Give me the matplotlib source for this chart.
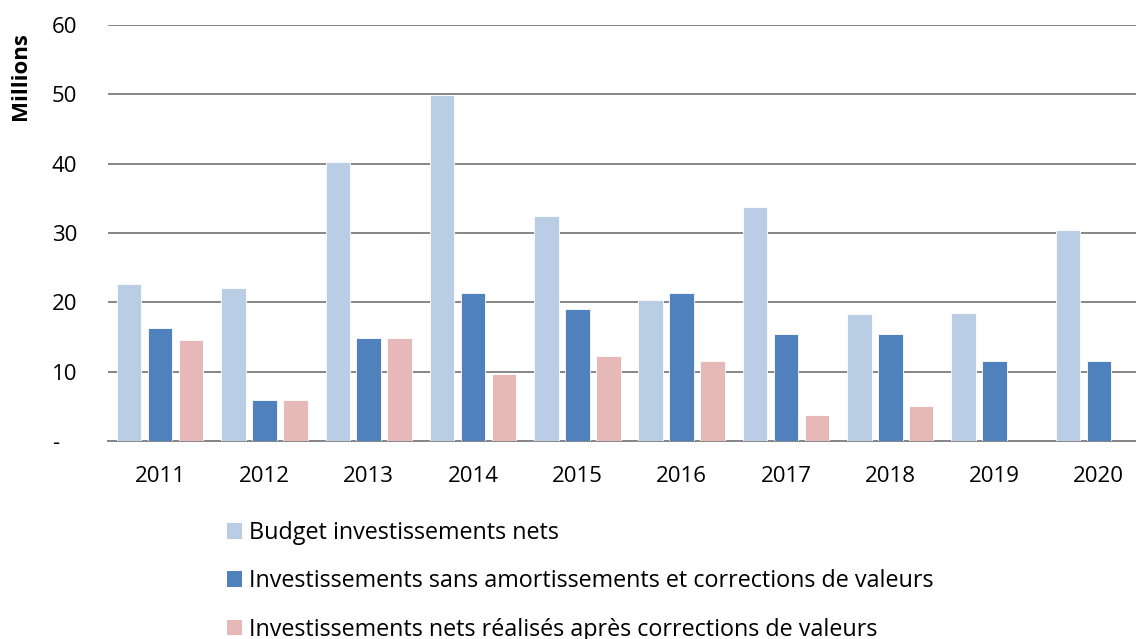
import numpy as np
import matplotlib
matplotlib.use("Agg")
import matplotlib.pyplot as plt
from matplotlib.patches import Patch

plt.rcParams['font.family'] = ['Open Sans', 'DejaVu Sans']

# valeurs (millions)
years = ['2011', '2012', '2013', '2014', '2015', '2016', '2017', '2018', '2019', '2020']
budget = [22.6, 22.0, 40.2, 49.9, 32.5, 20.3, 33.8, 18.3, 18.5, 30.5]
sans_amort = [16.3, 5.9, 14.8, 21.3, 19.0, 21.3, 15.4, 15.4, 11.6, 11.6]
realises = [14.5, 5.9, 14.8, 9.6, 12.3, 11.6, 3.8, 5.0, np.nan, np.nan]

series_names = ['Budget investissements nets',
                'Investissements sans amortissements et corrections de valeurs',
                'Investissements nets réalisés après corrections de valeurs']
colors = ['#B9CDE5', '#4F81BD', '#E6B9B8']
yticks = [0, 10, 20, 30, 40, 50, 60]
ytick_labels = ['-   ', '10', '20', '30', '40', '50', '60']

fig = plt.figure(figsize=(11.36, 6.39), dpi=100)
# la zone du graphique depasse a droite (image rognee)
ax = fig.add_axes([108 / 1136, 1 - 441 / 639, 1043 / 1136, 416 / 639])

x = np.arange(len(years))
w = 0.235
step = 0.297
for i, (vals, c) in enumerate(zip([budget, sans_amort, realises], colors)):
    ax.bar(x + (i - 1) * step, vals, width=w, color=c, edgecolor='white',
           linewidth=0.6, zorder=3)

ax.set_xlim(-0.5, len(years) - 0.5)
ax.set_ylim(0, 60)
ax.set_yticks(yticks)
ax.set_yticklabels(ytick_labels)
ax.set_xticks(x)
ax.set_xticklabels(years)
ax.grid(axis='y', color='#868686', linewidth=1.4, zorder=0)
for s in ['top', 'right', 'left']:
    ax.spines[s].set_visible(False)
ax.spines['bottom'].set_color('#868686')
ax.spines['bottom'].set_linewidth(1.4)
ax.tick_params(axis='both', length=0, labelsize=16, colors='black')
ax.tick_params(axis='y', pad=22)
ax.tick_params(axis='x', pad=18)

fig.text(21 / 1136, 1 - 76 / 639, 'Millions', rotation=90, fontsize=16,
         fontweight='bold', ha='center', va='center')

handles = [Patch(facecolor=c, edgecolor='none') for c in colors]
fig.legend(handles, series_names, loc='upper left',
           bbox_to_anchor=(227 / 1136, 1 - 521 / 639), frameon=False,
           fontsize=16.8, handlelength=0.65, handleheight=0.65, handletextpad=0.28,
           labelspacing=1.04, borderpad=0, borderaxespad=0)

fig.savefig('out.png', dpi=100)
